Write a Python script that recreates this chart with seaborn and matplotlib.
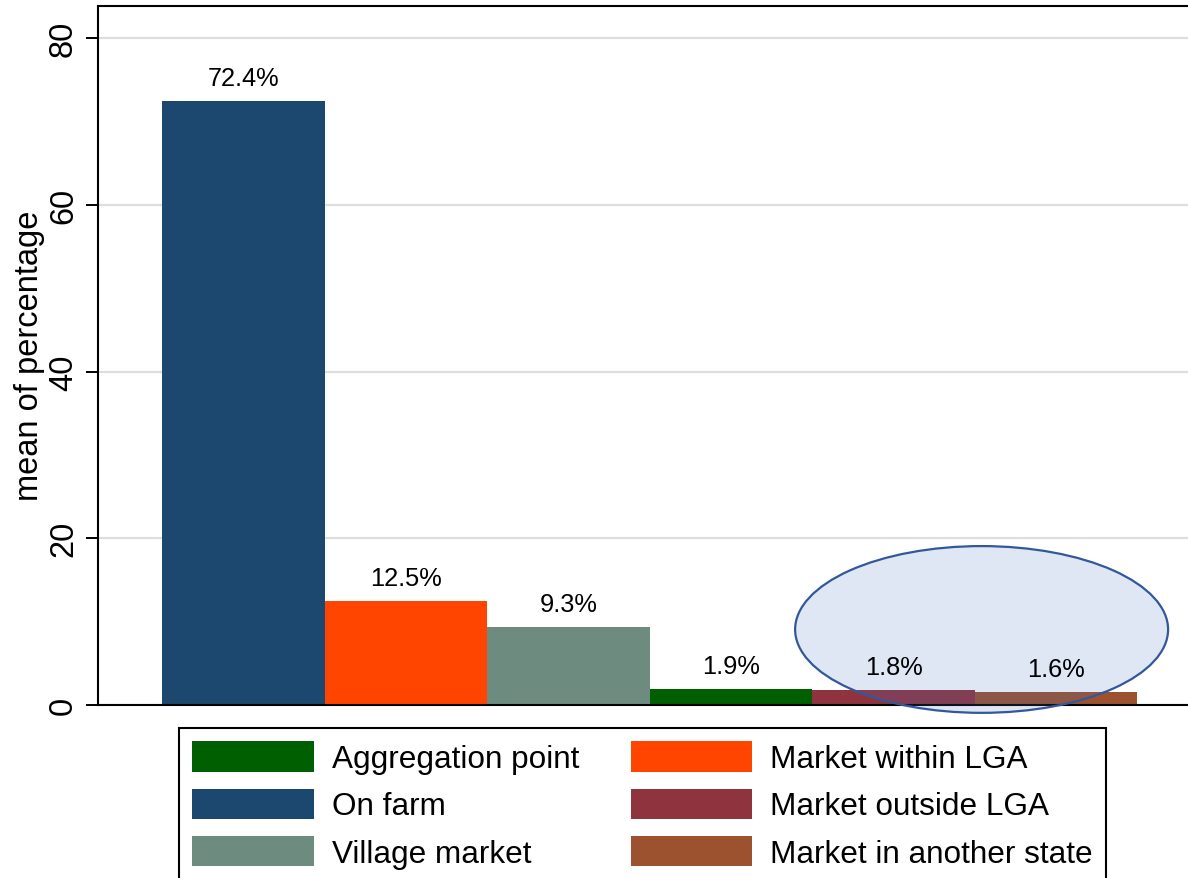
import matplotlib
matplotlib.use("Agg")
import matplotlib.pyplot as plt
from matplotlib.patches import Patch, Ellipse
import seaborn as sns
import pandas as pd

# Where farmers sell: mean share (%) by point of sale
categories = ["On farm", "Market within LGA", "Village market",
              "Aggregation point", "Market outside LGA", "Market in another state"]
values = [72.4, 12.5, 9.3, 1.9, 1.8, 1.6]
colors = ["#1c476f", "#ff4500", "#6e8b80", "#005f00", "#8f343e", "#9c522e"]
legend_order = ["Aggregation point", "On farm", "Village market",
                "Market within LGA", "Market outside LGA", "Market in another state"]
y_ticks = [0, 20, 40, 60, 80]

sns.set_theme(style="white")
plt.rcParams["font.family"] = ["Liberation Sans", "DejaVu Sans"]
plt.rcParams["text.color"] = "black"
plt.rcParams["axes.labelcolor"] = "black"
plt.rcParams["xtick.color"] = "black"
plt.rcParams["ytick.color"] = "black"

df = pd.DataFrame({"location": categories, "percentage": values})
palette = dict(zip(categories, colors))

fig = plt.figure(figsize=(11.88, 8.79), dpi=100)
ax = fig.add_axes([98 / 1188, 1 - 706 / 879, 1 - 98 / 1188 + 0.01, (706 - 7) / 879])

sns.barplot(data=df, x="location", y="percentage", hue="location",
            palette=palette, order=categories, hue_order=categories,
            width=1.0, dodge=False, saturation=1, legend=False, ax=ax,
            zorder=2, linewidth=0)

ax.set_xlim(-0.895, 5.812 + 0.01 * 1188 / 162.5)
ax.set_ylim(0, 83.84)
ax.set_yticks(y_ticks)
ax.set_xticks([])
ax.set_xlabel("")
ax.set_ylabel("")
ax.yaxis.grid(True, color="#dedede", linewidth=1.6, zorder=0)
ax.set_axisbelow(True)

for side in ["left", "top", "bottom"]:
    ax.spines[side].set_visible(True)
    ax.spines[side].set_color("black")
    ax.spines[side].set_linewidth(1.5)
ax.spines["right"].set_visible(False)

ax.tick_params(axis="y", which="major", left=True, length=8.6, width=1.4,
               color="black", labelcolor="black", labelsize=23.5,
               labelrotation=90, pad=5)
for lab in ax.get_yticklabels():
    lab.set_verticalalignment("center")

# Highlight around the smallest outlets
ell = Ellipse((4.542, 9.06), 2.295, 20.0, facecolor=(0x44 / 255, 0x72 / 255, 0xc4 / 255, 0.17),
              edgecolor="#33589a", linewidth=1.6, zorder=3, clip_on=False)
ax.add_patch(ell)

for i, v in enumerate(values):
    ax.annotate(f"{v:.1f}%", xy=(i, v), xytext=(0, 8), textcoords="offset points",
                ha="center", va="bottom", fontsize=18.3, color="black", zorder=4)

fig.text(30 / 1188, 1 - 356 / 879, "mean of percentage", rotation=90,
         ha="center", va="center", fontsize=23.5, color="black")

handles = [Patch(facecolor=palette[c], edgecolor="none", label=c) for c in legend_order]
leg = fig.legend(handles=handles, ncol=2, loc="upper left",
                 bbox_to_anchor=(179 / 1188, 1 - 729 / 879), borderaxespad=0,
                 fontsize=22.7, frameon=True, fancybox=False, shadow=False,
                 handlelength=3.85, handleheight=1.1, handletextpad=0.57,
                 labelspacing=0.46, columnspacing=1.65, borderpad=0.42)
for t in leg.get_texts():
    t.set_color("black")
leg.get_frame().set_edgecolor("black")
leg.get_frame().set_linewidth(1.5)
leg.get_frame().set_facecolor("white")
leg.get_frame().set_alpha(1)

fig.savefig("out.png", dpi=100)
